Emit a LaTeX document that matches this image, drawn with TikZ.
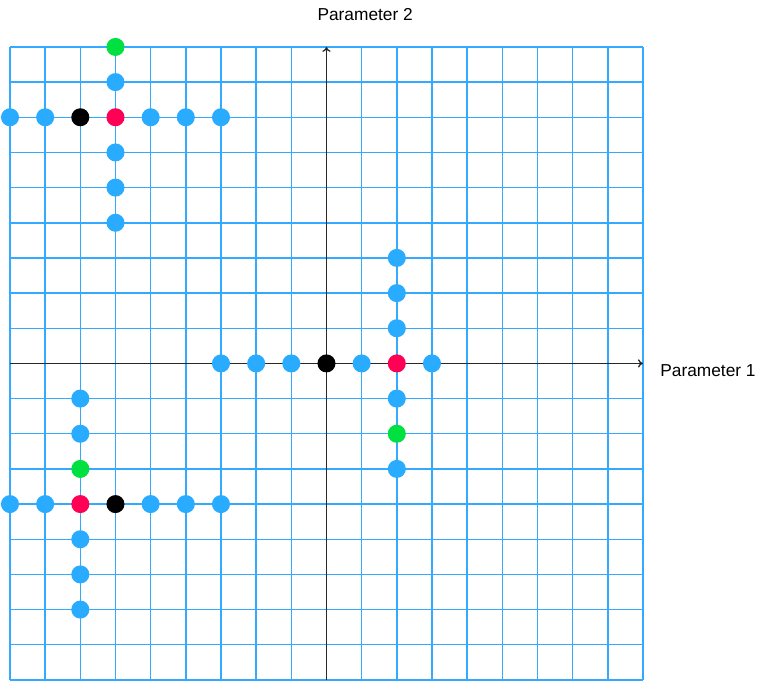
\documentclass[tikz,border=0pt]{standalone}
\usepackage{fontspec}
\setmainfont{Liberation Sans}
\usetikzlibrary{arrows.meta}
\definecolor{gridblue}{RGB}{51,170,255}
\definecolor{dotblue}{RGB}{41,171,255}
\definecolor{dotred}{RGB}{255,0,85}
\definecolor{dotgreen}{RGB}{0,224,64}
\definecolor{axisgray}{RGB}{40,40,40}
\begin{document}
\begin{tikzpicture}[x=0.75cm,y=0.75cm,
  dot/.style={circle,inner sep=0pt,minimum size=0.385cm,draw=none},
  bluedot/.style={dot,fill=dotblue},
  reddot/.style={dot,fill=dotred},
  greendot/.style={dot,fill=dotgreen},
  blackdot/.style={dot,fill=black},
  gridline/.style={draw=gridblue,line width=0.9pt},
  axis/.style={draw=axisgray,line width=0.8pt,-{To[length=3pt,width=5pt]}},
  lbl/.style={font=\fontsize{10.5}{12}\selectfont,inner sep=0pt}]
\useasboundingbox (-0.284,-0.028) rectangle (21.30,19.335);
% grid
\foreach \k in {0,...,18} {
  \draw[gridline] (\k,0) -- (\k,18);
  \draw[gridline] (0,\k) -- (18,\k);
}
% axes
\coordinate (xs) at (0,9); \coordinate (xe) at (18,9);
\coordinate (ys) at (9,0); \coordinate (ye) at (9,18);
\draw[axis] (xs) -- (xe);
\draw[axis] (ys) -- (ye);
\node[lbl] (p1) at (19.85,8.8) {Parameter 1};
\node[lbl] (p2) at (10.1,18.93) {Parameter 2};
% top-left cluster
\node[greendot] (a0) at (3,18) {};
\foreach \c/\r [count=\i] in {3/17,0/16,1/16,4/16,5/16,6/16,3/15,3/14,3/13}
  \node[bluedot] (a\i) at (\c,\r) {};
\node[blackdot] (ak) at (2,16) {};
\node[reddot] (ar) at (3,16) {};
% center cluster
\foreach \c/\r [count=\i] in {6/9,7/9,8/9,10/9,12/9,11/12,11/11,11/10,11/8,11/6}
  \node[bluedot] (b\i) at (\c,\r) {};
\node[blackdot] (bk) at (9,9) {};
\node[reddot] (br) at (11,9) {};
\node[greendot] (bg) at (11,7) {};
% bottom-left cluster
\foreach \c/\r [count=\i] in {2/8,2/7,2/4,2/3,2/2,0/5,1/5,4/5,5/5,6/5}
  \node[bluedot] (c\i) at (\c,\r) {};
\node[greendot] (cg) at (2,6) {};
\node[reddot] (cr) at (2,5) {};
\node[blackdot] (ck) at (3,5) {};
\end{tikzpicture}
\end{document}
